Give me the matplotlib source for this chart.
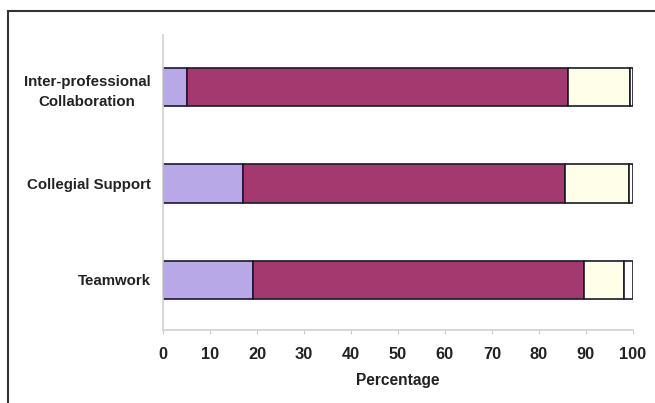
import matplotlib.pyplot as plt
from matplotlib.patches import Rectangle
import numpy as np

plt.rcParams['font.family'] = ['Liberation Sans', 'DejaVu Sans']

categories = ['Teamwork', 'Collegial Support', 'Inter-professional\nCollaboration']
seg1 = [19.1, 17.0, 5.1]
seg2 = [70.5, 68.5, 81.1]
seg3 = [8.6, 13.8, 13.3]
seg4 = [1.8, 0.7, 0.5]
xticks = [0, 10, 20, 30, 40, 50, 60, 70, 80, 90, 100]

colors = ['#b9a8e8', '#a3396f', '#fffee8', '#ffffff']

fig = plt.figure(figsize=(6.55, 4.03), dpi=100)
ax = fig.add_axes([0.249, 0.181, 0.717, 0.732])

y = np.arange(len(categories))
left = np.zeros(len(categories))
for vals, c in zip([seg1, seg2, seg3, seg4], colors):
    ax.barh(y, vals, left=left, height=0.4, color=c, edgecolor='#1a1a2a', linewidth=1.2)
    left += np.array(vals)

ax.set_xlim(0, 100)
ax.set_ylim(-0.52, 2.54)
ax.set_yticks(y)
ax.set_yticklabels(categories, fontsize=10.8, fontweight='bold', color='#222222',
                   multialignment='center', linespacing=1.55)
ax.set_xticks(xticks)
ax.set_xticklabels([str(t) for t in xticks], fontsize=11.8, fontweight='bold', color='#222222')
ax.tick_params(axis='y', length=0, pad=9)
ax.tick_params(axis='x', length=3, color='#cccccc', pad=9)
ax.set_xlabel('Percentage', fontsize=11.2, fontweight='bold', color='#222222', labelpad=8)

for s in ['top', 'right']:
    ax.spines[s].set_visible(False)
for s in ['left', 'bottom']:
    ax.spines[s].set_color('#d0d0d0')
    ax.spines[s].set_linewidth(1.2)

# outer frame
fig.patches.append(Rectangle((8 / 655, -0.1), 1.2, 1 - 11 / 403 + 0.1,
                             transform=fig.transFigure, fill=False,
                             edgecolor='#333333', linewidth=1.5))

fig.savefig('out.png', dpi=100)
